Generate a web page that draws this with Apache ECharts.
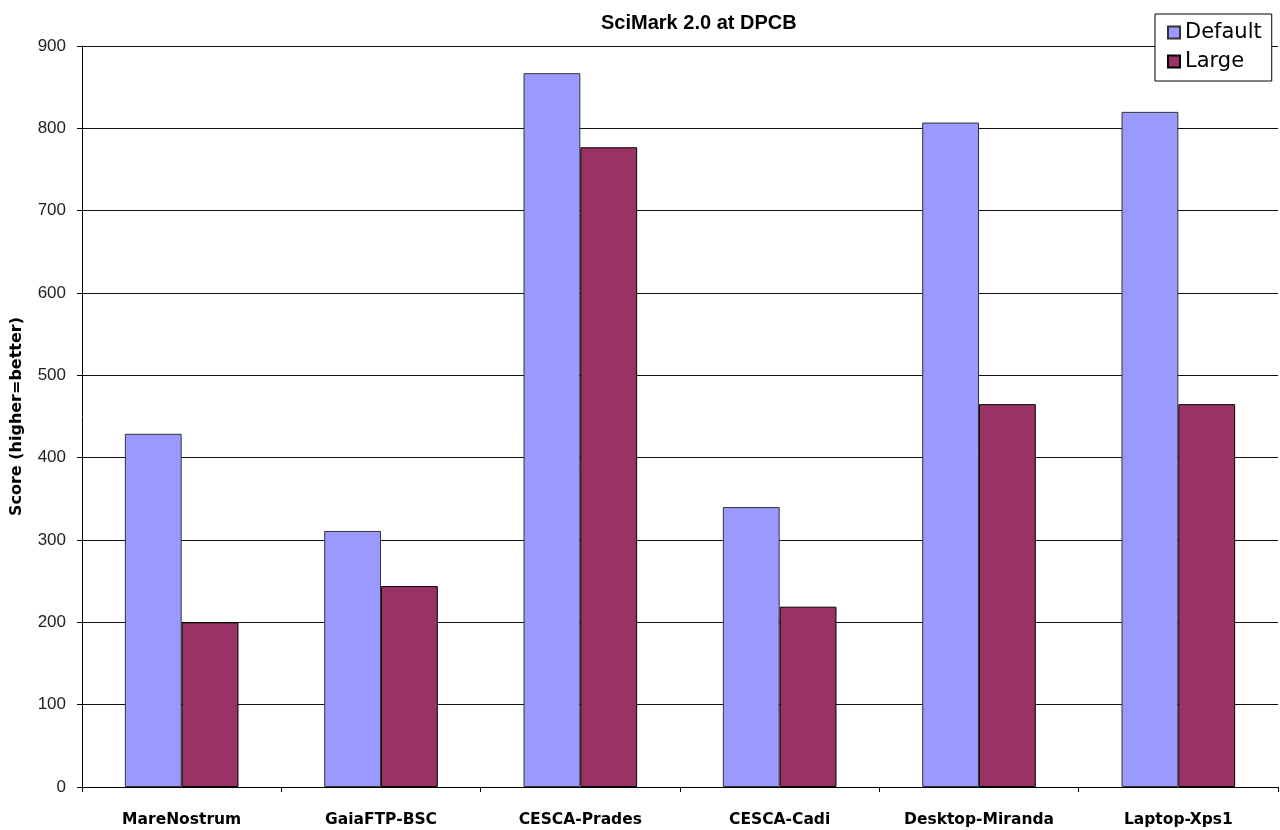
<!DOCTYPE html>
<html>
<head>
<meta charset="utf-8">
<script src="https://cdn.jsdelivr.net/npm/echarts@6/dist/echarts.min.js"></script>
<style>
  html, body { margin: 0; padding: 0; background: #fff; }
  #chart { width: 1280px; height: 830px; }
</style>
</head>
<body>
<div id="chart"></div>
<script>
// SciMark 2.0 composite scores per machine
const machines = ['MareNostrum', 'GaiaFTP-BSC', 'CESCA-Prades', 'CESCA-Cadi', 'Desktop-Miranda', 'Laptop-Xps1'];
const defaultScores = [429, 311, 867, 340, 807, 820];
const largeScores = [200, 244, 777, 219, 465, 465];
const yTicks = [0, 100, 200, 300, 400, 500, 600, 700, 800, 900];

const chart = echarts.init(document.getElementById('chart'), null, { renderer: 'canvas' });

chart.setOption({
  backgroundColor: '#ffffff',
  animation: false,
  title: {
    text: 'SciMark 2.0 at DPCB',
    left: 596,
    top: 8,
    textStyle: { fontFamily: 'Liberation Sans', fontWeight: 'bold', fontSize: 20, color: '#000' }
  },
  legend: {
    orient: 'vertical',
    left: 1155,
    top: 14,
    padding: [8, 10, 9, 12],
    itemGap: 8,
    itemWidth: 12,
    itemHeight: 12,
    borderColor: '#000',
    borderWidth: 1,
    backgroundColor: '#fff',
    icon: 'rect',
    textStyle: { fontFamily: 'DejaVu Sans', fontSize: 21, color: '#000', padding: [0, 0, 0, 0] },
    data: ['Default', 'Large']
  },
  grid: { left: 82, right: 2, top: 46, bottom: 43, containLabel: false, outerBoundsMode: 'none' },
  xAxis: {
    type: 'category',
    data: machines,
    axisLine: { lineStyle: { color: '#000', width: 1 } },
    axisTick: { show: true, length: 5, lineStyle: { color: '#000' } },
    axisLabel: {
      margin: 25,
      fontFamily: 'DejaVu Sans',
      fontWeight: 'bold',
      fontSize: 15.5,
      color: '#000'
    }
  },
  yAxis: {
    type: 'value',
    min: yTicks[0],
    max: yTicks[yTicks.length - 1],
    interval: 100,
    name: 'Score (higher=better)',
    nameLocation: 'middle',
    nameGap: 57,
    nameTextStyle: { fontFamily: 'DejaVu Sans', fontWeight: 'bold', fontSize: 16, color: '#000' },
    axisLine: { show: true, lineStyle: { color: '#000', width: 1 } },
    axisTick: { show: true, length: 5, lineStyle: { color: '#000' } },
    splitLine: { show: true, lineStyle: { color: '#111', width: 1 } },
    axisLabel: {
      margin: 16,
      fontFamily: 'Liberation Sans',
      fontSize: 17,
      color: '#222'
    }
  },
  series: [
    {
      name: 'Default',
      type: 'bar',
      data: defaultScores,
      barGap: '0%',
      barCategoryGap: '43%',
      itemStyle: { color: '#9999FF', borderColor: '#333', borderWidth: 1 }
    },
    {
      name: 'Large',
      type: 'bar',
      data: largeScores,
      barGap: '0%',
      barCategoryGap: '43%',
      itemStyle: { color: '#993366', borderColor: '#000', borderWidth: 1 }
    }
  ]
});
</script>
</body>
</html>
